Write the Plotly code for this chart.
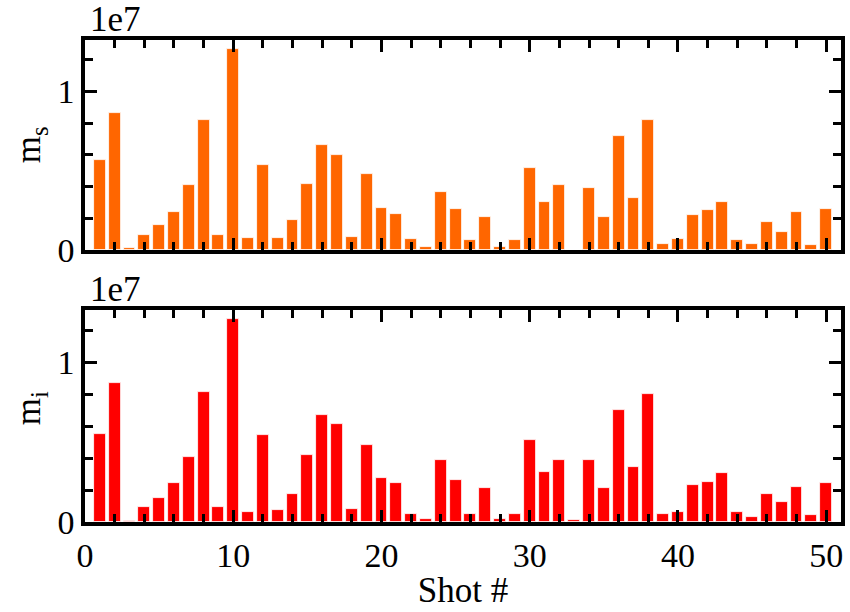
import numpy as np
import plotly.graph_objects as go
from plotly.subplots import make_subplots

shots = list(range(1, 51))
m_s = [5.70, 8.64, 0.10, 0.92, 1.55, 2.37, 4.07, 8.22, 0.92, 12.68,
       0.73, 5.39, 0.73, 1.87, 4.15, 6.65, 6.02, 0.82, 4.78, 2.68,
       2.29, 0.71, 0.19, 3.63, 2.60, 0.61, 2.06, 0.19, 0.61, 5.20,
       3.00, 4.07, 0.00, 3.94, 2.06, 7.17, 3.31, 8.22, 0.40, 0.71,
       2.18, 2.50, 3.00, 0.61, 0.40, 1.76, 1.13, 2.39, 0.30, 2.60]
m_i = [5.53, 8.66, 0.05, 0.94, 1.47, 2.41, 4.07, 8.13, 0.94, 12.70,
       0.63, 5.43, 0.73, 1.78, 4.17, 6.67, 6.14, 0.84, 4.80, 2.73,
       2.41, 0.52, 0.21, 3.86, 2.62, 0.52, 2.10, 0.21, 0.52, 5.11,
       3.12, 3.86, 0.10, 3.86, 2.10, 6.98, 3.44, 8.03, 0.52, 0.63,
       2.31, 2.52, 3.04, 0.63, 0.31, 1.78, 1.26, 2.20, 0.42, 2.41]
m_s = [v * 1e6 for v in m_s]
m_i = [v * 1e6 for v in m_i]

x_ticks = [0, 10, 20, 30, 40, 50]
y_ticks = [0, 1e7]
y_ticktext = ["0", "1"]

FONT = "Times New Roman, Liberation Serif, DejaVu Serif, serif"
W, H = 850, 612
ML, MR, MT, MB = 85, 5, 40, 90

fig = make_subplots(rows=2, cols=1, vertical_spacing=0.0)

fig.add_trace(go.Bar(x=shots, y=m_s, width=0.8, marker=dict(color="#ff6600", line=dict(color="white", width=0.8)),
                     hoverinfo="skip"), row=1, col=1)
fig.add_trace(go.Bar(x=shots, y=m_i, width=0.8, marker=dict(color="#ff0000", line=dict(color="white", width=0.8)),
                     hoverinfo="skip"), row=2, col=1)

ph = H - MT - MB
top_dom = [(522 - 250) / ph, 1.0]
bot_dom = [0.0, (522 - 310) / ph]

axis_common = dict(showline=True, linewidth=3.5, linecolor="black", mirror="allticks",
                   ticks="inside", ticklen=12, tickwidth=3, tickcolor="black",
                   showgrid=False, zeroline=False,
                   tickfont=dict(family=FONT, size=34, color="black"))

xaxis = dict(axis_common, range=[0, 51], tickmode="array", tickvals=x_ticks,
             ticktext=[str(t) for t in x_ticks],
             minor=dict(tickmode="array", tickvals=list(np.arange(0, 51, 2)), ticklen=8, tickwidth=3,
                        tickcolor="black", ticks="inside", showgrid=False))
yaxis = dict(axis_common, range=[0, 1.325e7], tickmode="array", tickvals=y_ticks, ticktext=y_ticktext,
             minor=dict(tickmode="array", tickvals=list(np.arange(0, 1.33e7, 2e6)), ticklen=8, tickwidth=3,
                        tickcolor="black", ticks="inside", showgrid=False))

fig.update_layout(
    width=W, height=H, margin=dict(l=ML, r=MR, t=MT, b=MB),
    paper_bgcolor="white", plot_bgcolor="white", showlegend=False, bargap=0,
    font=dict(family=FONT, color="black"),
    xaxis=dict(xaxis, showticklabels=False, domain=[0, 1]),
    xaxis2=dict(xaxis, domain=[0, 1],
                title=dict(text="Shot #", font=dict(family=FONT, size=35, color="black"), standoff=6)),
    yaxis=dict(yaxis, domain=top_dom),
    yaxis2=dict(yaxis, domain=bot_dom),
)

ann_font = dict(family=FONT, size=35, color="black")
fig.add_annotation(text="1e7", xref="paper", yref="paper", x=(88 - ML) / (W - ML - MR), y=(522 - 20) / ph,
                   xanchor="left", yanchor="middle", showarrow=False, font=ann_font)
fig.add_annotation(text="1e7", xref="paper", yref="paper", x=(88 - ML) / (W - ML - MR), y=(522 - 289) / ph,
                   xanchor="left", yanchor="middle", showarrow=False, font=ann_font)
fig.add_annotation(text="m<sub>s</sub>", xref="paper", yref="paper", x=(30 - ML) / (W - ML - MR),
                   y=(522 - 145) / ph, xanchor="center", yanchor="middle", textangle=-90,
                   showarrow=False, font=ann_font)
fig.add_annotation(text="m<sub>i</sub>", xref="paper", yref="paper", x=(30 - ML) / (W - ML - MR),
                   y=(522 - 408) / ph, xanchor="center", yanchor="middle", textangle=-90,
                   showarrow=False, font=ann_font)

fig.write_html("out.html")
